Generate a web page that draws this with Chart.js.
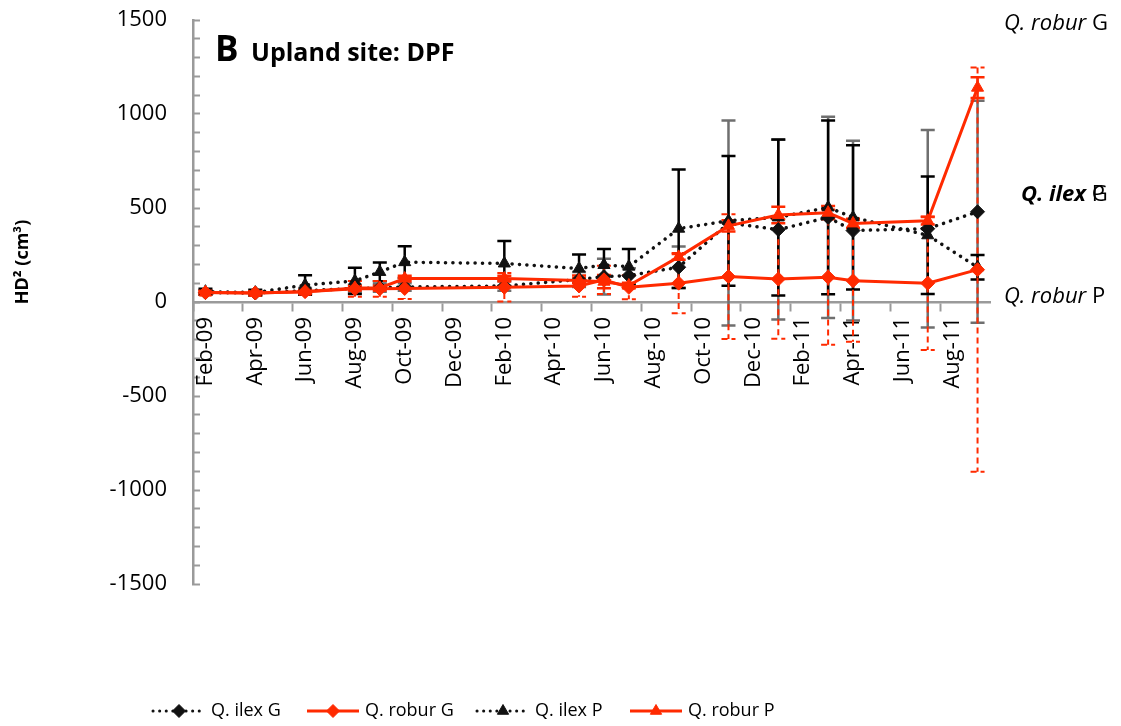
<!DOCTYPE html>
<html>
<head>
<meta charset="utf-8">
<script src="https://cdn.jsdelivr.net/npm/chart.js@4.4.1/dist/chart.umd.min.js"></script>
<style>
  html, body { margin: 0; padding: 0; background: #fff; }
  #wrap { width: 1121px; height: 726px; position: relative; }
</style>
</head>
<body>
<div id="wrap"><canvas id="hd2Chart"></canvas></div>
<script>
// Monthly category axis, Feb-09 .. Sep-11
const allMonths = ['Feb-09','Mar-09','Apr-09','May-09','Jun-09','Jul-09','Aug-09','Sep-09','Oct-09','Nov-09','Dec-09','Jan-10',
                   'Feb-10','Mar-10','Apr-10','May-10','Jun-10','Jul-10','Aug-10','Sep-10','Oct-10','Nov-10','Dec-10','Jan-11',
                   'Feb-11','Mar-11','Apr-11','May-11','Jun-11','Jul-11','Aug-11','Sep-11'];

// Survey dates
const sampleMonths = ['Feb-09','Apr-09','Jun-09','Aug-09','Sep-09','Oct-09','Feb-10','May-10','Jun-10','Jul-10',
                      'Sep-10','Nov-10','Jan-11','Mar-11','Apr-11','Jul-11','Sep-11'];

// Mean HD² (cm³) and error per survey
const ilexG      = [50, 48, 60, 72, 75, 80, 85, 120, 135, 140, 185, 420, 385, 450, 380, 390, 480];
const ilexGErr   = [12, 12, 15, 20, 20, 20, 25, 40, 95, 40, 110, 545, 478, 535, 478, 525, 590];
const roburG     = [50, 48, 55, 70, 70, 72, 78, 85, 118, 78, 100, 135, 122, 132, 113, 100, 172];
const roburGErr  = [10, 10, 10, 42, 42, 56, 76, 57, 75, 64, 160, 332, 318, 360, 324, 355, 1075];
const ilexP      = [55, 50, 90, 112, 160, 212, 205, 178, 197, 188, 390, 432, 450, 503, 450, 355, 185];
const ilexPErr   = [15, 15, 52, 70, 50, 85, 120, 75, 85, 94, 315, 345, 415, 462, 384, 312, 65];
const roburP     = [50, 48, 55, 75, 75, 125, 125, 115, 108, 88, 240, 405, 463, 475, 418, 432, 1140];
const roburPErr  = [8, 8, 8, 12, 12, 15, 15, 15, 35, 15, 15, 30, 44, 35, 25, 20, 55];

const yTicks = [-1500, -1000, -500, 0, 500, 1000, 1500];

const RED = '#ff2a00';
const BLACK = '#111111';
const AXIS_GREY = '#9a9a9a';
const FONT = "'Open Sans', sans-serif";

function points(vals) {
    return sampleMonths.map((m, i) => ({ x: m, y: vals[i] }));
}

const series = [
    { label: 'Q. ilex G',  data: ilexG,  err: ilexGErr,  color: BLACK, dotted: true,  marker: 'rectRot',  errColor: '#6f6f6f', errDash: [] },
    { label: 'Q. robur G', data: roburG, err: roburGErr, color: RED,   dotted: false, marker: 'rectRot',  errColor: RED,       errDash: [6, 4] },
    { label: 'Q. ilex P',  data: ilexP,  err: ilexPErr,  color: BLACK, dotted: true,  marker: 'triangle', errColor: '#000000', errDash: [] },
    { label: 'Q. robur P', data: roburP, err: roburPErr, color: RED,   dotted: false, marker: 'triangle', errColor: RED,       errDash: [] }
];

// Error bars, drawn under the lines
const errorBars = {
    id: 'errorBars',
    beforeDatasetsDraw(chart) {
        const { ctx, scales: { x, y } } = chart;
        [0, 2, 1, 3].forEach(k => {
            const s = series[k];
            ctx.save();
            ctx.strokeStyle = s.errColor;
            ctx.lineWidth = s.errDash.length ? 2 : 2.5;
            ctx.setLineDash(s.errDash);
            s.data.forEach((v, i) => {
                const px = x.getPixelForValue(allMonths.indexOf(sampleMonths[i]));
                const top = y.getPixelForValue(v + s.err[i]);
                const bot = y.getPixelForValue(v - s.err[i]);
                ctx.beginPath();
                ctx.moveTo(px, top); ctx.lineTo(px, bot);
                ctx.moveTo(px - 7, top); ctx.lineTo(px + 7, top);
                ctx.moveTo(px - 7, bot); ctx.lineTo(px + 7, bot);
                ctx.stroke();
            });
            ctx.restore();
        });
    }
};

// Draws a run of text pieces with their own fonts, left to right
function drawRuns(ctx, runs, x, y) {
    let cx = x;
    runs.forEach(r => {
        ctx.font = r.font;
        ctx.fillText(r.text, cx, y);
        if (!r.overlay) cx += ctx.measureText(r.text).width;
    });
}

// Title, axis title, end-of-line labels and legend
const decorations = {
    id: 'decorations',
    afterDraw(chart) {
        const { ctx } = chart;
        ctx.save();
        ctx.fillStyle = '#000';
        ctx.textBaseline = 'alphabetic';
        ctx.textAlign = 'left';

        ctx.font = `bold 35px ${FONT}`;
        ctx.fillText('B', 215, 61);
        ctx.font = `bold 25px ${FONT}`;
        ctx.fillText('Upland site: DPF', 251, 61);

        // y axis title
        ctx.save();
        ctx.translate(28, 262);
        ctx.rotate(-Math.PI / 2);
        ctx.textAlign = 'center';
        ctx.font = `bold 18px ${FONT}`;
        ctx.fillText('HD² (cm³)', 0, 0);
        ctx.restore();

        // labels to the right of the plot
        drawRuns(ctx, [
            { text: 'Q. robur ', font: `italic 22px ${FONT}` },
            { text: 'G', font: `22px ${FONT}` }
        ], 1004, 30);
        drawRuns(ctx, [
            { text: 'Q. ilex ', font: `italic bold 22px ${FONT}` },
            { text: 'G', font: `22px ${FONT}`, overlay: true },
            { text: 'P', font: `22px ${FONT}` }
        ], 1021, 201);
        drawRuns(ctx, [
            { text: 'Q. robur ', font: `italic 22px ${FONT}` },
            { text: 'P', font: `22px ${FONT}` }
        ], 1004, 303);

        // legend
        const legendX = [153, 307, 477, 630];
        const ly = 711;
        series.forEach((s, i) => {
            const x0 = legendX[i];
            ctx.save();
            ctx.strokeStyle = s.color;
            if (s.dotted) {
                ctx.lineWidth = 3;
                ctx.lineCap = 'round';
                ctx.setLineDash([0.1, 6.5]);
            } else {
                ctx.lineWidth = 3;
            }
            ctx.beginPath();
            ctx.moveTo(x0, ly);
            ctx.lineTo(x0 + 52, ly);
            ctx.stroke();
            ctx.restore();
            ctx.save();
            ctx.fillStyle = s.color;
            ctx.strokeStyle = s.color;
            ctx.lineWidth = 1;
            Chart.helpers.drawPoint(ctx, { pointStyle: s.marker, radius: 6.5, rotation: 0, borderWidth: 1 }, x0 + 26, ly);
            ctx.restore();
            ctx.fillStyle = '#000';
            ctx.font = `18px ${FONT}`;
            ctx.textBaseline = 'middle';
            ctx.fillText(s.label, x0 + 58, ly);
        });
        ctx.restore();
    }
};

const datasets = series.map((s, i) => ({
    label: s.label,
    data: points(s.data),
    borderColor: s.color,
    backgroundColor: s.color,
    borderWidth: s.dotted ? 3.5 : 3,
    borderDash: s.dotted ? [0.1, 7.3] : [],
    borderCapStyle: s.dotted ? 'round' : 'butt',
    pointStyle: s.marker,
    pointRadius: 7,
    pointBackgroundColor: s.color,
    pointBorderColor: s.color,
    pointBorderWidth: 1,
    tension: 0,
    order: [2, 1, 3, 0][i]
}));

new Chart(document.getElementById('hd2Chart'), {
    type: 'line',
    data: { labels: allMonths, datasets: datasets },
    options: {
        responsive: true,
        maintainAspectRatio: false,
        animation: false,
        devicePixelRatio: 1,
        layout: { padding: { left: 0, top: 20, right: 131, bottom: 142 } },
        plugins: {
            legend: { display: false },
            tooltip: { enabled: false }
        },
        scales: {
            x: {
                type: 'category',
                position: { y: 0 },
                offset: true,
                grid: {
                    offset: true,
                    drawOnChartArea: false,
                    tickLength: 8,
                    tickWidth: 2,
                    tickColor: ctx => (ctx.index % 2 === 0 ? AXIS_GREY : 'rgba(0,0,0,0)'),
                    color: AXIS_GREY
                },
                border: { color: AXIS_GREY, width: 2.5 },
                ticks: {
                    autoSkip: false,
                    minRotation: 90,
                    maxRotation: 90,
                    padding: 7,
                    color: '#000',
                    font: { family: FONT, size: 22 },
                    callback: (val, idx) => (idx % 2 === 0 ? allMonths[idx] : '')
                }
            },
            y: {
                min: -1500,
                max: 1500,
                afterFit: s => {
                    s.width = 193;
                    s.paddingTop = 10;
                    s.paddingBottom = 10;
                },
                grid: {
                    drawOnChartArea: false,
                    tickLength: -7,
                    tickWidth: 2,
                    tickColor: AXIS_GREY
                },
                border: { color: AXIS_GREY, width: 2.5 },
                ticks: {
                    stepSize: 100,
                    autoSkip: false,
                    padding: 33,
                    color: '#000',
                    font: { family: FONT, size: 22 },
                    callback: v => (yTicks.includes(v) ? String(v) : '')
                }
            }
        }
    },
    plugins: [errorBars, decorations]
});
</script>
</body>
</html>
